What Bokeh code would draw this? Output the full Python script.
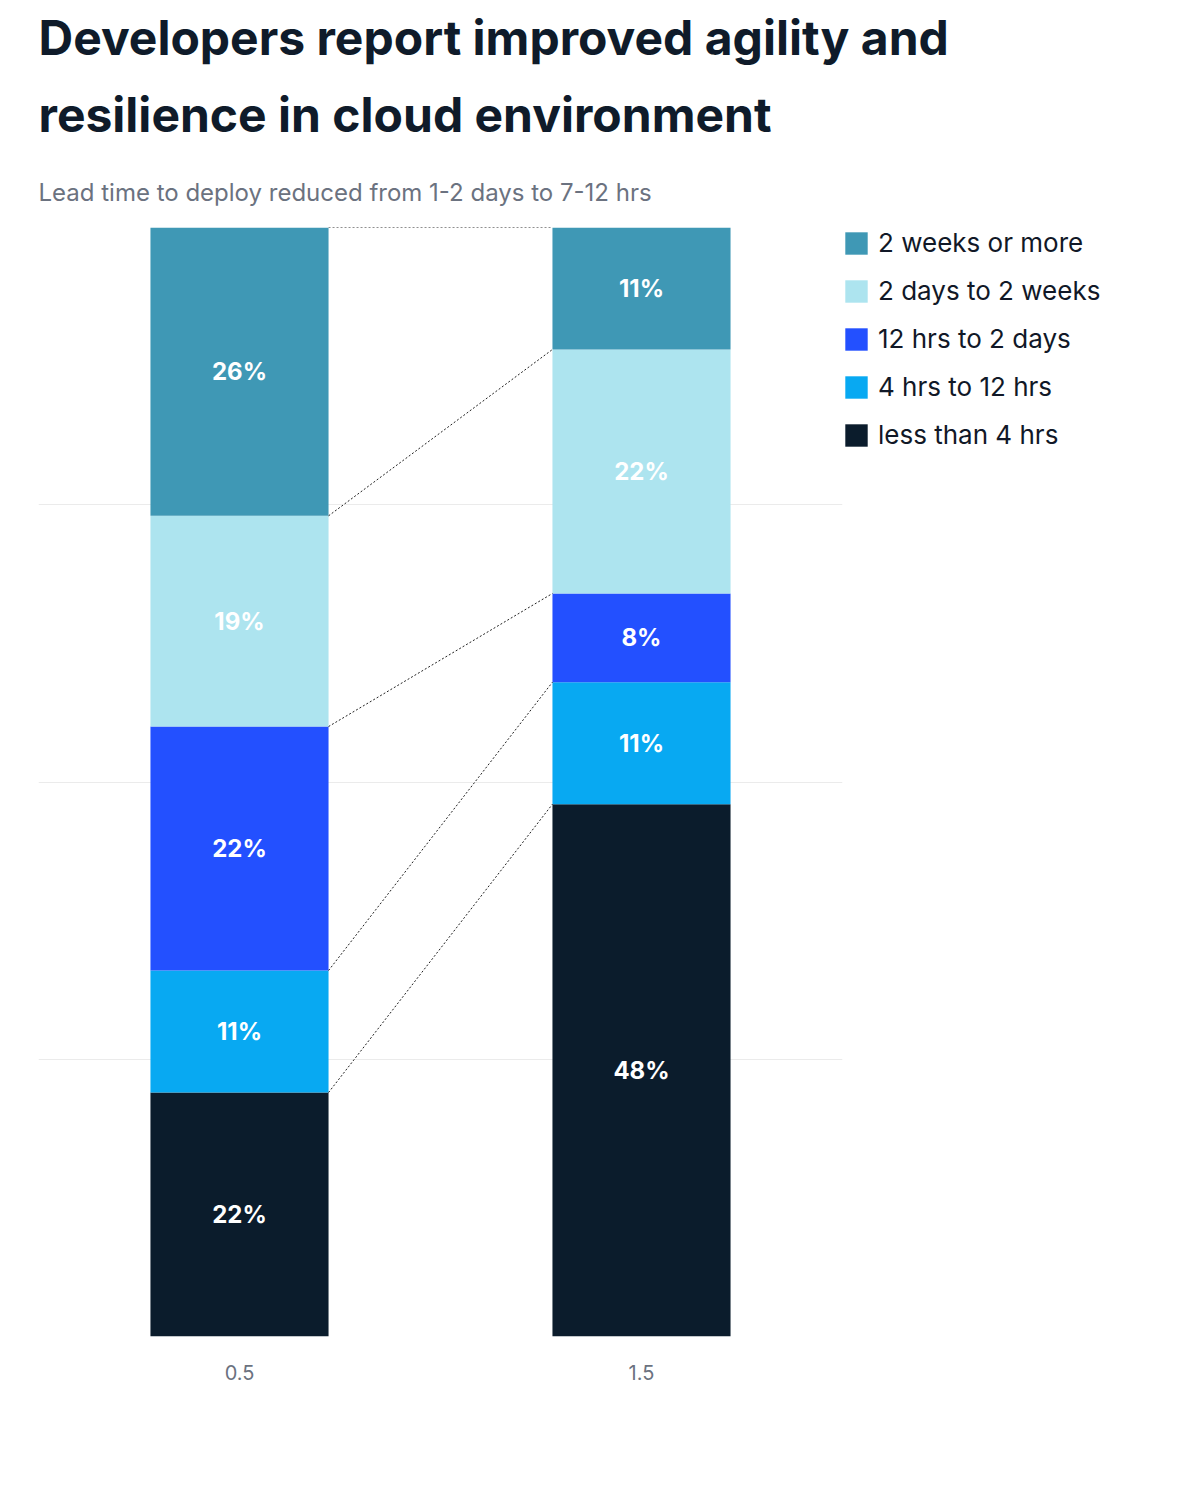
from bokeh.plotting import figure
from bokeh.models import Range1d, FixedTicker, Title, Legend, LegendItem, ColumnDataSource
from bokeh.core.properties import value
from bokeh.embed import file_html
from bokeh.resources import INLINE

groups = ["Prior to cloud migration", "Post cloud migration"]
series = ["less than 4 hrs", "4 hrs to 12 hrs", "12 hrs to 2 days", "2 days to 2 weeks", "2 weeks or more"]
colors = ["#0b1c2c", "#08a9f2", "#2350ff", "#ade4ef", "#3f98b5"]
prior = [22, 11, 22, 19, 26]
post = [48, 11, 8, 22, 11]

FONT = "Inter"
p = figure(frame_width=804, frame_height=1109, min_border_left=38, min_border_right=30,
           min_border_bottom=60, x_range=Range1d(0, 2), y_range=Range1d(0, 100),
           output_backend="svg", toolbar_location=None)
p.outline_line_color = None

p.add_layout(Title(text="Lead time to deploy reduced from 1-2 days to 7-12 hrs", text_font=FONT,
                   text_font_size="24px", text_font_style="normal", text_color="#6b7280",
                   offset=0, standoff=42), "above")
p.add_layout(Title(text="resilience in cloud environment", text_font=FONT, text_font_size="48px",
                   text_font_style="bold", text_color="#0f1b2a", standoff=22), "above")
p.add_layout(Title(text="Developers report improved agility and", text_font=FONT, text_font_size="48px",
                   text_font_style="bold", text_color="#0f1b2a", standoff=10), "above")

xs = [0.5, 1.5]
w = 0.443
renderers = []
for i, s in enumerate(series):
    bottoms = [sum(prior[:i]), sum(post[:i])]
    vals = [prior[i], post[i]]
    src = ColumnDataSource(dict(x=xs, bottom=bottoms, top=[b + v for b, v in zip(bottoms, vals)],
                                mid=[b + v / 2 for b, v in zip(bottoms, vals)],
                                lab=[f"{v}%" for v in vals]))
    r = p.vbar(x="x", bottom="bottom", top="top", width=w, source=src, fill_color=colors[i], line_color=None)
    renderers.append((s, r))
    p.text(x="x", y="mid", text="lab", source=src, text_color="white", text_font_size="24px",
           text_font_style="bold", text_align="center", text_baseline="middle", text_font=value(FONT))

cp, cq = 0, 0
for i in range(len(series)):
    cp += prior[i]; cq += post[i]
    if cp >= 100:
        continue
    p.line([0.5 + w / 2, 1.5 - w / 2], [cp, cq], line_color="#222222", line_width=1, line_dash="2 2")
p.line([0.5 + w / 2, 1.5 - w / 2], [100, 100], line_color="#222222", line_width=1, line_dash="2 2")

p.yaxis.visible = False
p.ygrid.ticker = FixedTicker(ticks=[0, 25, 50, 75, 100])
p.ygrid.grid_line_color = "#ebebeb"
p.xgrid.visible = False
p.xaxis.ticker = FixedTicker(ticks=xs)
p.xaxis.major_label_overrides = {"0.5": groups[0], "1.5": groups[1]}
p.xaxis.axis_line_color = None
p.xaxis.major_tick_line_color = None
p.xaxis.minor_tick_line_color = None
p.xaxis.major_label_text_font = FONT
p.xaxis.major_label_text_font_size = "20px"
p.xaxis.major_label_text_color = "#6b7280"
p.xaxis.major_label_standoff = 22

items = [LegendItem(label=s, renderers=[r]) for s, r in reversed(renderers)]
leg = Legend(items=items, location="top_left", label_text_font=FONT, label_text_font_size="26px",
             label_text_color="#111827", glyph_width=28, glyph_height=28, spacing=17,
             label_standoff=8, border_line_color=None, margin=0, padding=0,
             label_height=28)
p.add_layout(leg, "right")

open("out.html", "w").write(file_html(p, INLINE))
